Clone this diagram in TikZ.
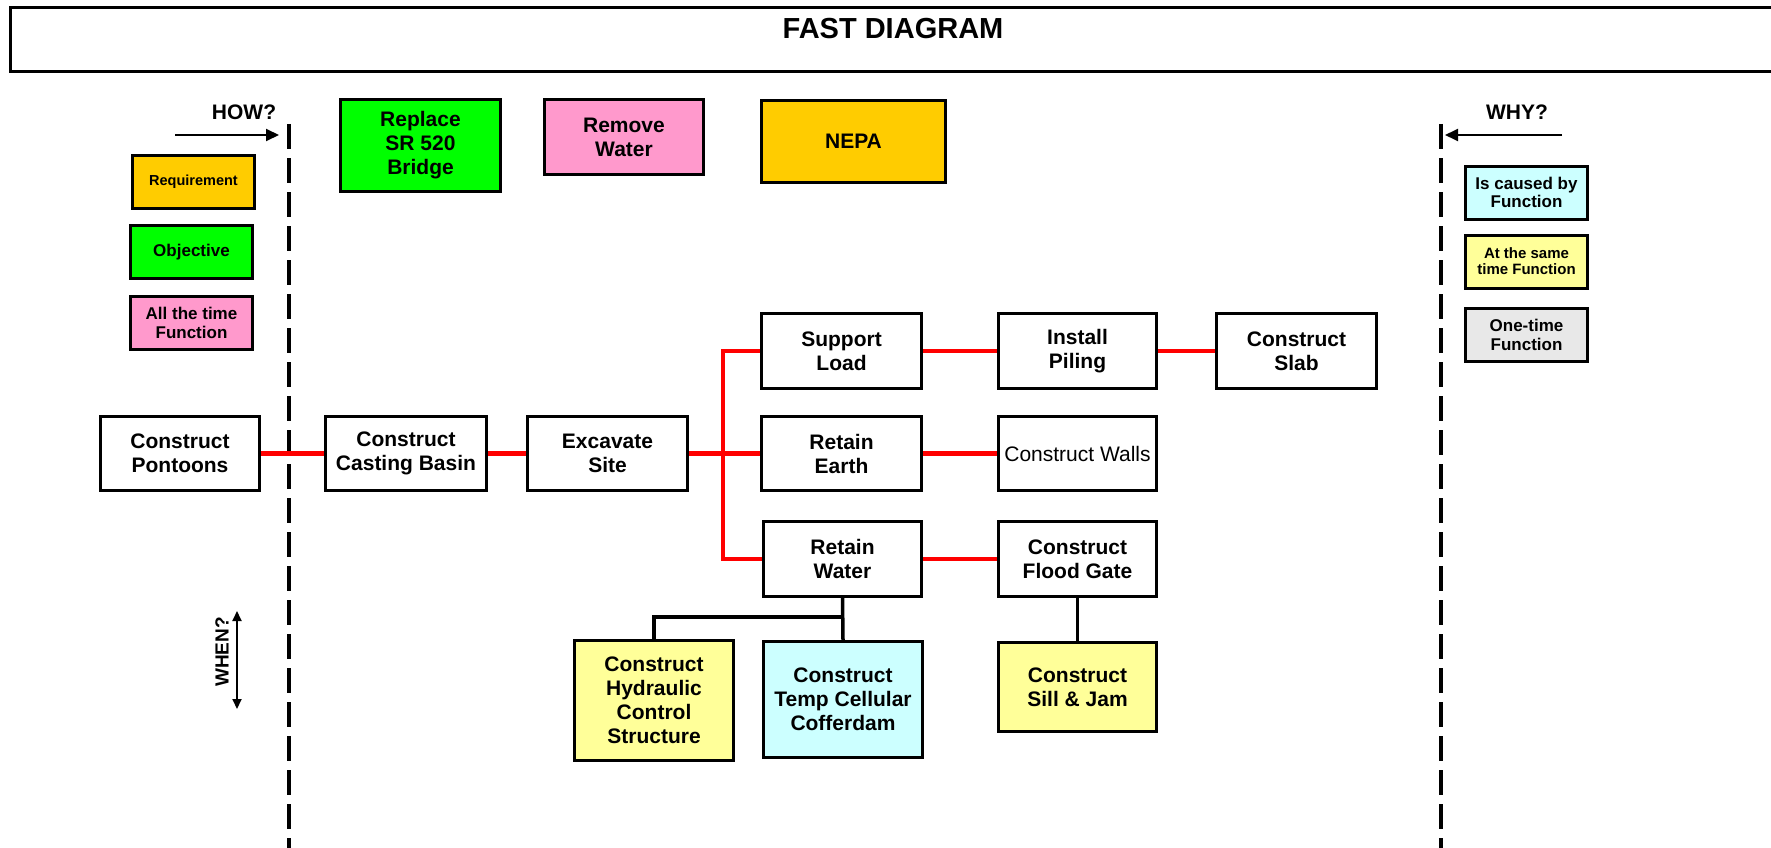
\documentclass[tikz,border=0pt]{standalone}
\usepackage{fontspec}
\setmainfont{Liberation Sans}
\usetikzlibrary{arrows.meta}
\definecolor{cOrange}{HTML}{FFCC00}
\definecolor{cGreen}{HTML}{00FF00}
\definecolor{cPink}{HTML}{FF99CC}
\definecolor{cCyan}{HTML}{CCFFFF}
\definecolor{cYellow}{HTML}{FFFF99}
\definecolor{cGray}{HTML}{E8E8E8}
\definecolor{cRed}{HTML}{FF0000}
\tikzset{
  fbox/.style={draw, line width=3pt, inner sep=0pt, align=center, fill=white,
    font=\bfseries\fontsize{21}{24}\selectfont},
  lbox/.style={draw, line width=3pt, inner sep=0pt, align=center,
    minimum width=122pt, minimum height=53pt},
  redline/.style={draw=cRed, line width=4.5pt},
  blkline/.style={draw=black, line width=3.5pt},
  divider/.style={draw=black, line width=4pt, dash pattern=on 25pt off 9pt},
  qarrow/.style={line width=2pt, -{Triangle[length=13pt,width=12pt]}},
  qlabel/.style={font=\bfseries\fontsize{21}{24}\selectfont}
}
\begin{document}
\begin{tikzpicture}[x=1pt,y=-1pt]
\useasboundingbox[fill=white] (0,0) rectangle (1771,848);

% title frame
\draw[line width=3pt] (1780,8) -- (10,8) -- (10,72) -- (1780,72);
\node[font=\bfseries\fontsize{29}{32}\selectfont] (title) at (893,29) {FAST DIAGRAM};

% dividers
\coordinate (ltop) at (289,124);
\coordinate (lbot) at (289,850);
\coordinate (rtop) at (1441,124);
\coordinate (rbot) at (1441,850);
\draw[divider] (ltop) -- (lbot);
\draw[divider] (rtop) -- (rbot);

% HOW / WHY / WHEN
\node[qlabel] (how) at (244,112) {HOW?};
\coordinate (howA) at (175,135);
\coordinate (howB) at (279,135);
\draw[qarrow] (howA) -- (howB);
\node[qlabel] (why) at (1517,112) {WHY?};
\coordinate (whyA) at (1562,135);
\coordinate (whyB) at (1445,135);
\draw[qarrow] (whyA) -- (whyB);
\node[rotate=90, font=\bfseries\fontsize{19}{22}\selectfont] (when) at (222,652) {WHEN?};
\coordinate (whenA) at (237,611);
\coordinate (whenB) at (237,709);
\draw[line width=2pt, {Triangle[length=10pt,width=9pt]}-{Triangle[length=10pt,width=9pt]}] (whenA) -- (whenB);

% legend left
\node[lbox, fill=cOrange, font=\bfseries\fontsize{14.5}{17}\selectfont] (req) at (193.5,182) {Requirement};
\node[lbox, fill=cGreen, font=\bfseries\fontsize{17}{19}\selectfont] (obj) at (191.5,252) {Objective};
\node[lbox, fill=cPink, font=\bfseries\fontsize{17}{19}\selectfont] (allt) at (191.5,322.5) {All the time\\Function};

% legend right
\node[lbox, fill=cCyan, font=\bfseries\fontsize{17}{18.5}\selectfont] (cause) at (1526.5,192.5) {Is caused by\\Function};
\node[lbox, fill=cYellow, font=\bfseries\fontsize{15}{16}\selectfont] (same) at (1526.5,261.5) {At the same\\time Function};
\node[lbox, fill=cGray, font=\bfseries\fontsize{17}{19}\selectfont] (onet) at (1526.5,334.5) {One-time\\Function};

% top boxes
\node[fbox, fill=cGreen, minimum width=160pt, minimum height=92pt] (repl) at (420.5,145.5) {Replace\\SR 520\\Bridge};
\node[fbox, fill=cPink, minimum width=159pt, minimum height=75pt] (remw) at (624,137) {Remove\\Water};
\node[fbox, fill=cOrange, minimum width=184pt, minimum height=82pt] (nepa) at (853.5,141.5) {NEPA};

% main boxes
\node[fbox, minimum width=159pt, minimum height=74pt] (pont) at (180,453.5) {Construct\\Pontoons};
\node[fbox, minimum width=161pt, minimum height=74pt] (cast) at (406,453.5) {Construct\\Casting Basin};
\node[fbox, minimum width=160pt, minimum height=74pt] (exc) at (607.5,453.5) {Excavate\\Site};
\node[fbox, minimum width=160pt, minimum height=75pt] (supp) at (841.5,351) {Support\\Load};
\node[fbox, minimum width=160pt, minimum height=74pt] (rearth) at (841.5,453.5) {Retain\\Earth};
\node[fbox, minimum width=158pt, minimum height=75pt] (rwater) at (842.5,559) {Retain\\Water};
\node[fbox, minimum width=158pt, minimum height=75pt] (pile) at (1077.5,351) {Install\\Piling};
\node[fbox, minimum width=158pt, minimum height=74pt, font=\mdseries\fontsize{21}{24}\selectfont] (walls) at (1077.5,453.5) {Construct Walls};
\node[fbox, minimum width=158pt, minimum height=75pt] (flood) at (1077.5,559) {Construct\\Flood Gate};
\node[fbox, minimum width=160pt, minimum height=75pt] (slab) at (1296.5,351) {Construct\\Slab};
\node[fbox, fill=cYellow, minimum width=159pt, minimum height=120pt] (hyd) at (654,700.5) {Construct\\Hydraulic\\Control\\Structure};
\node[fbox, fill=cCyan, minimum width=159pt, minimum height=116pt] (coff) at (843,699.5) {Construct\\Temp Cellular\\Cofferdam};
\node[fbox, fill=cYellow, minimum width=158pt, minimum height=89pt] (sill) at (1077.5,687) {Construct\\Sill \& Jam};

% red connectors
\coordinate (br) at (723,453.5);
\draw[redline] (pont) -- (cast);
\draw[redline] (cast) -- (exc);
\draw[redline] (exc) -- (rearth);
\draw[redline] (supp.west) -| (br) |- (rwater.west);
\draw[redline] (supp) -- (pile);
\draw[redline] (pile) -- (slab);
\draw[redline] (rearth) -- (walls);
\draw[redline] (rwater) -- (flood);

% black connectors
\coordinate (jn) at (842.5,617);
\draw[blkline] (rwater.south) -- (coff.north);
\draw[blkline] (jn) -| (hyd.north);
\draw[blkline] (flood.south) -- (sill.north);
\end{tikzpicture}
\end{document}
